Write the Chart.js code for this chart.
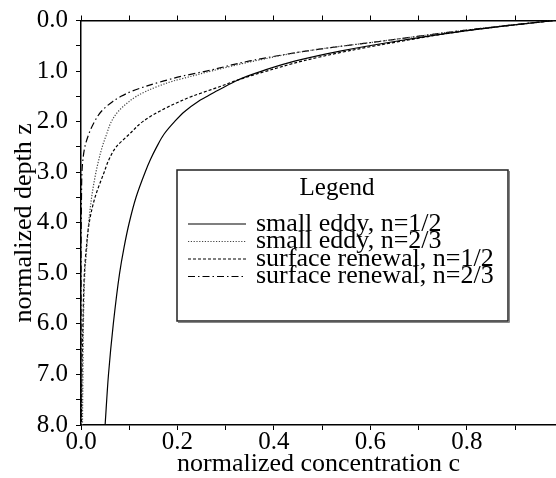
<!DOCTYPE html>
<html>
<head>
<meta charset="utf-8">
<script src="https://cdn.jsdelivr.net/npm/chart.js@4.4.1/dist/chart.umd.min.js"></script>
<style>
  body { margin: 0; background: #fff; }
  #wrap { position: relative; width: 556px; height: 478px; }
</style>
</head>
<body>
<div id="wrap"><canvas id="chart"></canvas></div>
<script>
// normalized depth z (shared by all four profiles)
const depth = [0, 0.2, 0.4, 0.6, 0.8, 1.0, 1.1, 1.2, 1.3, 1.4, 1.5, 1.6, 1.8, 2.0, 2.25, 2.5, 2.75, 3.0, 3.5, 4, 4.5, 5, 6, 7, 8]

// normalized concentration c at each depth
const smallEddyHalf = [0.98, 0.80, 0.66, 0.54, 0.445, 0.375, 0.345, 0.32, 0.30, 0.28, 0.262, 0.243, 0.215, 0.194, 0.172, 0.157, 0.144, 0.133, 0.114, 0.100, 0.089, 0.080, 0.067, 0.057, 0.050]
const smallEddyTwoThirds = [0.98, 0.79, 0.63, 0.47, 0.36, 0.27, 0.23, 0.19, 0.16, 0.135, 0.115, 0.10, 0.077, 0.063, 0.053, 0.044, 0.037, 0.031, 0.022, 0.016, 0.012, 0.008, 0.005, 0.004, 0.003]
const surfaceRenewalHalf = [0.98, 0.80, 0.67, 0.555, 0.46, 0.385, 0.35, 0.318, 0.29, 0.26, 0.23, 0.205, 0.162, 0.128, 0.10, 0.073, 0.058, 0.048, 0.029, 0.017, 0.011, 0.007, 0.004, 0.002, 0.001]
const surfaceRenewalTwoThirds = [0.98, 0.79, 0.63, 0.47, 0.35, 0.26, 0.21, 0.17, 0.135, 0.105, 0.083, 0.066, 0.042, 0.028, 0.016, 0.008, 0.004, 0.002, 0.001, 0.0005, 0, 0, 0, 0, 0]

const seriesLabels = ['small eddy, n=1/2', 'small eddy, n=2/3', 'surface renewal, n=1/2', 'surface renewal, n=2/3']
const seriesValues = [smallEddyHalf, smallEddyTwoThirds, surfaceRenewalHalf, surfaceRenewalTwoThirds]
const seriesDash = [[], [1.2, 1.6], [3, 2], [7, 3, 1.5, 3]]
const seriesColor = ['#000', '#444', '#000', '#000']

const FONT = 'Liberation Serif, Times New Roman, serif'

const toPoints = vals => vals.map((c, i) => ({ x: c, y: depth[i] }))

//legend drawn as a boxed panel inside the plot, like the original figure
const boxLegend = {
  id: 'boxLegend',
  afterDraw(chart) {
    const ctx = chart.ctx
    const left = 177, top = 170, right = 508, bottom = 321
    ctx.save()
    ctx.fillStyle = '#fff'
    ctx.fillRect(left, top, right - left, bottom - top)
    // faint shadow on the lower and right edges
    ctx.strokeStyle = '#888'
    ctx.lineWidth = 1
    ctx.beginPath()
    ctx.moveTo(left + 1, bottom + 1.5)
    ctx.lineTo(right + 1.5, bottom + 1.5)
    ctx.lineTo(right + 1.5, top + 1)
    ctx.stroke()
    ctx.strokeStyle = '#222'
    ctx.lineWidth = 1.5
    ctx.strokeRect(left, top, right - left, bottom - top)

    ctx.fillStyle = '#000'
    ctx.font = '25px ' + FONT
    ctx.textBaseline = 'middle'
    ctx.textAlign = 'center'
    ctx.fillText('Legend', 337, 188)

    ctx.textAlign = 'left'
    ctx.font = '26px ' + FONT
    chart.data.datasets.forEach((ds, i) => {
      const y = 224 + i * 17.5
      ctx.beginPath()
      ctx.setLineDash(ds.borderDash)
      ctx.strokeStyle = ds.borderColor
      ctx.lineWidth = 1.2
      ctx.moveTo(188, y)
      ctx.lineTo(246, y)
      ctx.stroke()
      ctx.setLineDash([])
      ctx.fillText(ds.label, 256, y)
    })
    ctx.restore()
  }
}

const oneDecimal = v => (Math.round(v * 10) / 10).toFixed(1)

new Chart(document.getElementById('chart'), {
  type: 'line',
  data: {
    datasets: seriesLabels.map((label, i) => ({
      label: label,
      data: toPoints(seriesValues[i]),
      borderColor: seriesColor[i],
      borderDash: seriesDash[i],
      borderWidth: 1.2,
      pointRadius: 0,
      fill: false,
      cubicInterpolationMode: 'monotone'
    }))
  },
  options: {
    responsive: true,
    maintainAspectRatio: false,
    animation: false,
    indexAxis: 'y',
    layout: { padding: 0 },
    plugins: { legend: { display: false }, tooltip: { enabled: false } },
    scales: {
      x: {
        type: 'linear',
        position: 'bottom',
        min: 0,
        max: 0.985,
        afterFit: s => { s.height = 53 },
        border: { display: true, color: '#000', width: 1.5 },
        grid: { drawOnChartArea: false, drawTicks: true, tickLength: 5, color: '#000' },
        ticks: {
          stepSize: 0.1,
          includeBounds: false,
          autoSkip: false,
          maxRotation: 0,
          padding: 0,
          color: '#000',
          font: { family: FONT, size: 25, lineHeight: 1 },
          callback: v => (Math.round(v * 10) % 2 === 0 ? oneDecimal(v) : '')
        },
        title: {
          display: true,
          text: 'normalized concentration c',
          color: '#000',
          font: { family: FONT, size: 26, lineHeight: 1 },
          padding: { top: 0, bottom: 1 }
        }
      },
      x2: {
        type: 'linear',
        position: 'top',
        axis: 'x',
        min: 0,
        max: 0.985,
        afterFit: s => { s.height = 18 },
        border: { display: true, color: '#000', width: 1.5 },
        grid: { drawOnChartArea: false, drawTicks: true, tickLength: 5, color: '#000' },
        ticks: { display: false, stepSize: 0.1, includeBounds: false }
      },
      y: {
        type: 'linear',
        position: 'left',
        reverse: true,
        min: 0,
        max: 8,
        afterFit: s => { s.width = 81 },
        border: { display: true, color: '#000', width: 1.5 },
        grid: { drawOnChartArea: false, drawTicks: true, tickLength: 5, color: '#000' },
        ticks: {
          stepSize: 0.5,
          autoSkip: false,
          padding: 8,
          color: '#000',
          font: { family: FONT, size: 25, lineHeight: 1 },
          callback: v => (Math.round(v * 2) % 2 === 0 ? oneDecimal(v) : '')
        },
        title: {
          display: true,
          text: 'normalized depth z',
          color: '#000',
          font: { family: FONT, size: 26, lineHeight: 1.2 },
          padding: { top: 9, bottom: 0 }
        }
      }
    }
  },
  plugins: [boxLegend]
})
</script>
</body>
</html>
